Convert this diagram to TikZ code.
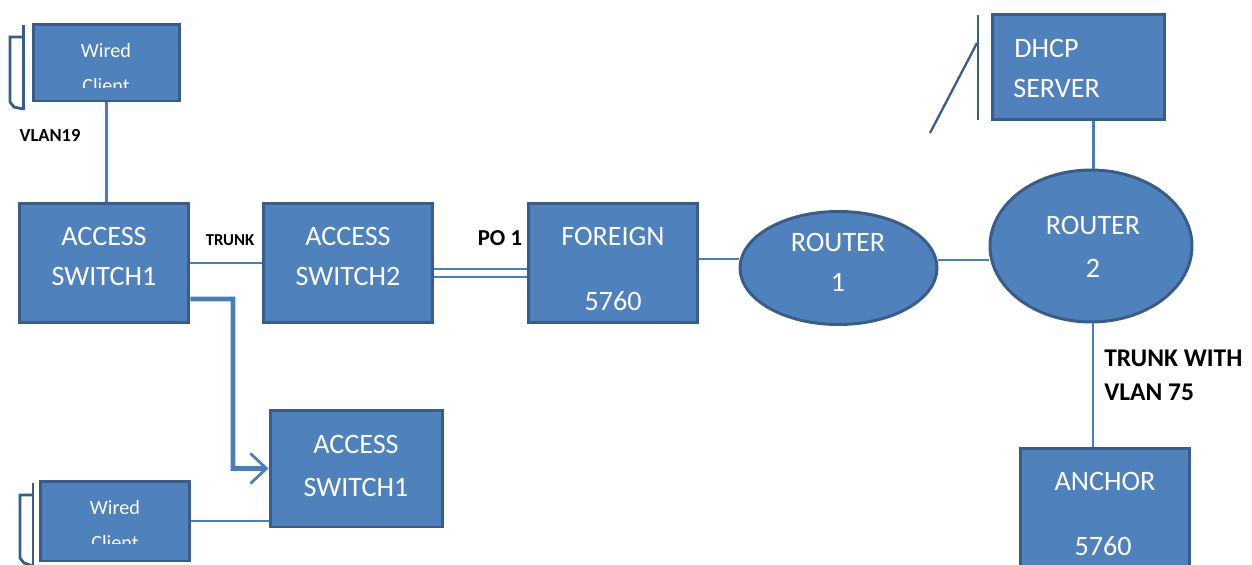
\documentclass[tikz,border=0pt]{standalone}
\usepackage{fontspec}
\setmainfont{Carlito}
\usetikzlibrary{shapes.geometric,arrows.meta}
\definecolor{boxfill}{HTML}{4F81BD}
\definecolor{boxline}{HTML}{385D8A}
\definecolor{wire}{HTML}{4A7EBB}
\begin{document}
\begin{tikzpicture}[x=0.02cm,y=-0.02cm,
  box/.style={draw=boxline, fill=boxfill, line width=1.7pt, inner sep=0pt},
  oval/.style={ellipse, draw=boxline, fill=boxfill, line width=1.7pt, inner sep=0pt},
  txt/.style={text=white, font=\fontsize{16}{19}\selectfont, inner sep=0pt},
  smalltxt/.style={text=white, font=\fontsize{11.5}{14}\selectfont, inner sep=0pt},
  lbl/.style={text=black, inner sep=0pt},
  wireline/.style={draw=wire, line width=1.2pt},
  bigarrow/.style={draw=wire, line width=2.6pt, -{Straight Barb[length=3.2mm,width=6mm,line width=1.6pt]}},
  sideface/.style={draw=boxline, line width=1.6pt}]
\clip (0,0) rectangle (1252,565);
\fill[white] (0,0) rectangle (1252,565);

% side faces
\draw[sideface] (23.5,25) -- (23.5,110);
\draw[sideface] (23,37) -- (10,37) -- (10,102) -- (14,107) -- (23,109);
\draw[sideface] (33,483) -- (33,570);
\draw[sideface] (33,495) -- (20,495) -- (20,558) -- (24,563) -- (33,566);
\draw[sideface] (978,15) -- (978,120);
\draw[sideface, line width=1.3pt] (977,43) -- (930,133);

% boxes
\node[box, minimum width=2.94cm, minimum height=1.54cm] (wc1) at (106.5,62.5) {};
\node[box, minimum width=3.4cm, minimum height=2.4cm] (as1) at (104,263) {};
\node[box, minimum width=3.4cm, minimum height=2.4cm] (as2) at (348,263) {};
\node[box, minimum width=3.4cm, minimum height=2.4cm] (foreign) at (613,263) {};
\node[oval, minimum width=3.94cm, minimum height=2.26cm] (r1) at (838.5,268) {};
\node[oval, minimum width=4.04cm, minimum height=3.04cm] (r2) at (1091,246) {};
\node[box, minimum width=3.46cm, minimum height=2.12cm] (dhcp) at (1078.5,67) {};
\node[box, minimum width=3.4cm, minimum height=2.88cm] (anchor) at (1105,520) {};
\node[box, minimum width=3.46cm, minimum height=2.34cm] (as1b) at (356.5,468.5) {};
\node[box, minimum width=3.0cm, minimum height=1.6cm] (wc2) at (115,521) {};

% box texts
\node[smalltxt] (wc1a) at (106,51) {Wired};
\begin{scope}
\clip (40,60) rectangle (175,87);
\node[smalltxt] (wc1b) at (106,86) {Client};
\end{scope}
\node[smalltxt] (wc2a) at (115,508) {Wired};
\begin{scope}
\clip (45,517) rectangle (185,543);
\node[smalltxt] (wc2b) at (115,543) {Client};
\end{scope}
\node[txt] (as1a) at (104,236) {ACCESS};
\node[txt] (as1c) at (104,276) {SWITCH1};
\node[txt] (as2a) at (348,236) {ACCESS};
\node[txt] (as2c) at (348,276) {SWITCH2};
\node[txt] (fa) at (613,236) {FOREIGN};
\node[txt] (fb) at (613,301) {5760};
\node[txt] (r1a) at (838,242) {ROUTER};
\node[txt] (r1b) at (838,282) {1};
\node[txt] (r2a) at (1093,225) {ROUTER};
\node[txt] (r2b) at (1093,268) {2};
\node[txt, anchor=west] (da) at (1014,48) {DHCP};
\node[txt, anchor=west] (db) at (1013,88) {SERVER};
\node[txt] (aa) at (1105,481) {ANCHOR};
\node[txt] (ab) at (1103,546) {5760};
\node[txt] (bsa) at (356,444) {ACCESS};
\node[txt] (bsb) at (356,487) {SWITCH1};

% labels
\node[lbl, font=\bfseries\fontsize{10.5}{12}\selectfont] (vlan19) at (50,135) {VLAN19};
\node[lbl, font=\bfseries\fontsize{9.5}{11}\selectfont] (trunk) at (230,240) {TRUNK};
\node[lbl, font=\bfseries\fontsize{13}{15}\selectfont] (po1) at (500,238) {PO 1};
\node[lbl, font=\bfseries\fontsize{14.5}{17}\selectfont, anchor=west] (tw) at (1104,358) {TRUNK WITH};
\node[lbl, font=\bfseries\fontsize{14.5}{17}\selectfont, anchor=west] (v75) at (1104,392) {VLAN 75};

% connectors
\draw[wireline] (wc1.south) -- (wc1.south |- as1.north);
\draw[wireline] (as1.east) -- (as2.west);
\draw[wireline] ([yshift=-0.12cm]as2.east) -- ([yshift=-0.12cm]foreign.west);
\draw[wireline] ([yshift=-0.28cm]as2.east) -- ([yshift=-0.28cm]foreign.west);
\draw[wireline] ([yshift=0.08cm]foreign.east) -- ([yshift=0.08cm]foreign.east -| r1.west);
\draw[wireline] ([yshift=0.16cm]r1.east) -- ([yshift=0.16cm]r1.east -| r2.west);
\draw[wireline] ([xshift=0.3cm]dhcp.south) -- ([xshift=0.3cm]dhcp.south |- r2.north);
\draw[wireline] ([xshift=0.04cm]r2.south) -- ([xshift=0.04cm]r2.south |- anchor.north);
\draw[wireline] (wc2.east) -- (wc2.east -| as1b.west);
\coordinate (bend) at (233,299);
\draw[bigarrow] ([yshift=-0.72cm]as1.east) -- (bend) |- (as1b.west);
\end{tikzpicture}
\end{document}
